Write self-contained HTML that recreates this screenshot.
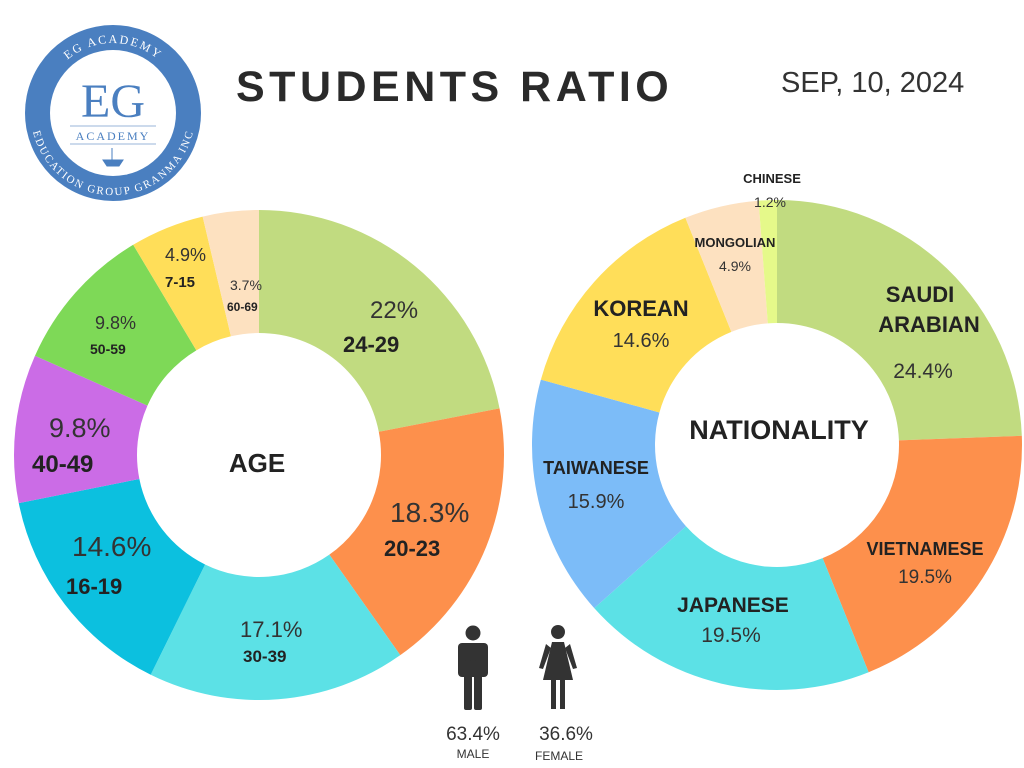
<!DOCTYPE html>
<html><head><meta charset="utf-8"><style>
html,body{margin:0;padding:0;background:#fff;}
svg{display:block;font-family:"Liberation Sans",sans-serif;}
.b{font-weight:bold;fill:#222;}
.n{fill:#333;}
</style></head><body>
<svg id="s" width="1024" height="768" viewBox="0 0 1024 768" xmlns="http://www.w3.org/2000/svg">
<rect width="1024" height="768" fill="#fff"/>
<g id="pies"></g>
<!-- logo -->
<circle cx="113" cy="113" r="88" fill="#4a7fc0"/>
<circle cx="113" cy="113" r="63" fill="#fff"/>
<path id="arcTop" d="M43,113 A70,70 0 0 1 183,113" fill="none"/>
<path id="arcBot" d="M38,113 A75,75 0 0 0 188,113" fill="none"/>
<text font-family="Liberation Serif" font-size="12" fill="#fff" letter-spacing="2"><textPath href="#arcTop" startOffset="50%" text-anchor="middle">EG ACADEMY</textPath></text>
<text font-family="Liberation Serif" font-size="11" fill="#fff" letter-spacing="1"><textPath href="#arcBot" startOffset="50%" text-anchor="middle" dominant-baseline="hanging">EDUCATION GROUP GRANMA INC</textPath></text>
<text x="113" y="117" text-anchor="middle" font-family="Liberation Serif" font-size="48" fill="#4a7fc0">EG</text>
<line x1="70" y1="126" x2="156" y2="126" stroke="#9ab4d8"/>
<text x="113" y="140" text-anchor="middle" font-family="Liberation Serif" font-size="12" fill="#4a7fc0" letter-spacing="2">ACADEMY</text>
<line x1="70" y1="144" x2="156" y2="144" stroke="#9ab4d8"/>
<path d="M103,160 L123,160 L119,166 L107,166 Z M112,148 L112,160" fill="#4a7fc0" stroke="#4a7fc0"/>
<!-- titles -->
<text x="236" y="101" font-size="43" font-weight="bold" fill="#2a2a2a" letter-spacing="4.5">STUDENTS RATIO</text>
<text x="781" y="92" font-size="29" fill="#333">SEP, 10, 2024</text>
<!-- age labels -->
<text x="370" y="318" font-size="24" class="n">22%</text>
<text x="343" y="352" font-size="22" class="b">24-29</text>
<text x="390" y="522" font-size="28" class="n">18.3%</text>
<text x="384" y="556" font-size="22" class="b">20-23</text>
<text x="240" y="637" font-size="22" class="n">17.1%</text>
<text x="243" y="662" font-size="17" class="b">30-39</text>
<text x="72" y="556" font-size="28" class="n">14.6%</text>
<text x="66" y="594" font-size="22" class="b">16-19</text>
<text x="49" y="437" font-size="27" class="n">9.8%</text>
<text x="32" y="472" font-size="24" class="b">40-49</text>
<text x="95" y="329" font-size="18" class="n">9.8%</text>
<text x="90" y="354" font-size="14" class="b">50-59</text>
<text x="165" y="261" font-size="18" class="n">4.9%</text>
<text x="165" y="287" font-size="15" class="b">7-15</text>
<text x="230" y="290" font-size="14" class="n">3.7%</text>
<text x="227" y="311" font-size="12" class="b">60-69</text>
<text x="257" y="472" font-size="26" class="b" text-anchor="middle">AGE</text>
<!-- nationality labels -->
<text x="920" y="302" font-size="22" class="b" text-anchor="middle">SAUDI</text>
<text x="929" y="332" font-size="22" class="b" text-anchor="middle">ARABIAN</text>
<text x="923" y="378" font-size="21" class="n" text-anchor="middle">24.4%</text>
<text x="925" y="555" font-size="18" class="b" text-anchor="middle">VIETNAMESE</text>
<text x="925" y="583" font-size="19" class="n" text-anchor="middle">19.5%</text>
<text x="733" y="612" font-size="21" class="b" text-anchor="middle">JAPANESE</text>
<text x="731" y="642" font-size="21" class="n" text-anchor="middle">19.5%</text>
<text x="596" y="474" font-size="18" class="b" text-anchor="middle">TAIWANESE</text>
<text x="596" y="508" font-size="20" class="n" text-anchor="middle">15.9%</text>
<text x="641" y="316" font-size="22" class="b" text-anchor="middle">KOREAN</text>
<text x="641" y="347" font-size="20" class="n" text-anchor="middle">14.6%</text>
<text x="735" y="247" font-size="13" class="b" text-anchor="middle">MONGOLIAN</text>
<text x="735" y="271" font-size="14" class="n" text-anchor="middle">4.9%</text>
<text x="772" y="183" font-size="13" class="b" text-anchor="middle">CHINESE</text>
<text x="770" y="207" font-size="14" class="n" text-anchor="middle">1.2%</text>
<text x="779" y="439" font-size="27" class="b" text-anchor="middle">NATIONALITY</text>
<!-- people -->
<g fill="#333">
<circle cx="473" cy="633" r="7.5"/>
<rect x="458" y="643" width="30" height="34" rx="4"/>
<rect x="464" y="660" width="8" height="50" rx="2"/>
<rect x="474" y="660" width="8" height="50" rx="2"/>
<circle cx="558" cy="632" r="7"/>
<path d="M552,642 L564,642 L573,680 L543,680 Z"/>
<path d="M546,644 L539,668 L543,669 L551,648 Z M570,644 L577,668 L573,669 L565,648 Z"/>
<rect x="551" y="678" width="5" height="31"/>
<rect x="560" y="678" width="5" height="31"/>
</g>
<text x="473" y="740" font-size="19" class="n" text-anchor="middle">63.4%</text>
<text x="473" y="758" font-size="12" class="n" text-anchor="middle">MALE</text>
<text x="566" y="740" font-size="19" class="n" text-anchor="middle">36.6%</text>
<text x="559" y="760" font-size="12" class="n" text-anchor="middle">FEMALE</text>
</svg>
<script>
function donut(cx,cy,R,r,data){
 var g=document.getElementById('pies'),a=0,tot=0;data.forEach(d=>tot+=d[0]);
 data.forEach(function(d){
  var a1=a+d[0]/tot*2*Math.PI;
  function p(rad,ang){return [cx+rad*Math.sin(ang),cy-rad*Math.cos(ang)];}
  var o0=p(R,a),o1=p(R,a1),i1=p(r,a1),i0=p(r,a),lg=(a1-a)>Math.PI?1:0;
  var path=document.createElementNS('http://www.w3.org/2000/svg','path');
  path.setAttribute('d','M'+o0+' A'+R+','+R+' 0 '+lg+' 1 '+o1+' L'+i1+' A'+r+','+r+' 0 '+lg+' 0 '+i0+' Z');
  path.setAttribute('fill',d[1]);g.appendChild(path);a=a1;
 });
}
donut(259,455,245,122,[[22,'#c1db80'],[18.3,'#fd904c'],[17.1,'#5ce1e6'],[14.6,'#0cc0df'],[9.8,'#cb6ce6'],[9.8,'#7ed957'],[4.9,'#ffde59'],[3.7,'#fde1c0']]);
donut(777,445,245,122,[[24.4,'#c1db80'],[19.5,'#fd904c'],[19.5,'#5ce1e6'],[15.9,'#7cbcf8'],[14.6,'#ffde59'],[4.9,'#fde1c0'],[1.2,'#e5f98a']]);
</script>
</body></html>
